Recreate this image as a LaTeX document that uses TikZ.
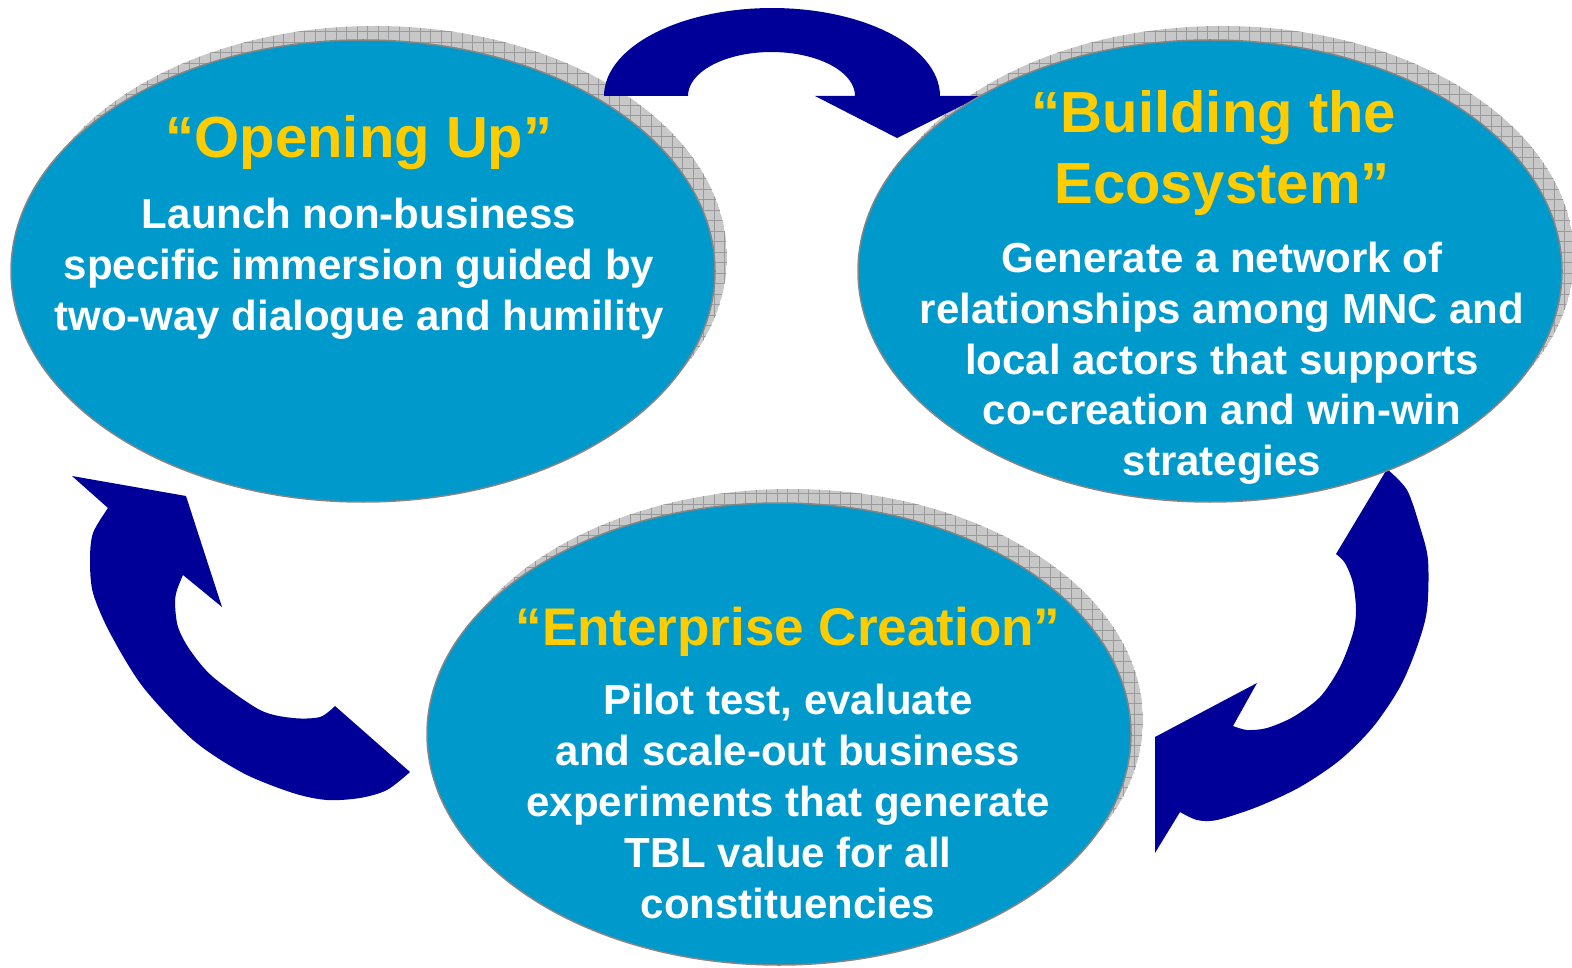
\documentclass[tikz,border=0pt]{standalone}
\usepackage{fontspec}
\setmainfont{Liberation Sans}
\usetikzlibrary{shapes.geometric}
\definecolor{cyanfill}{HTML}{0099CC}
\definecolor{arrowblue}{HTML}{000099}
\definecolor{titleyellow}{HTML}{FFCC00}
\definecolor{shadowfill}{HTML}{C8C8C8}
\definecolor{shadowgrid}{HTML}{9A9A9A}
\definecolor{rimgray}{HTML}{858585}
\tikzset{
  bubble/.style={ellipse, fill=cyanfill, draw=rimgray, line width=1.5pt, inner sep=0pt, outer sep=0pt, minimum width=704pt, minimum height=462pt},
  ttl/.style={text=titleyellow, font=\bfseries\fontsize{58}{70}\selectfont, inner sep=0pt, anchor=base},
  ttlsmall/.style={ttl, font=\bfseries\fontsize{53}{64}\selectfont},
  bodytxt/.style={text=white, font=\bfseries\fontsize{42}{51}\selectfont, inner sep=0pt, anchor=base},
  flow/.style={fill=arrowblue},
  hatchline/.style={draw=shadowgrid, line width=0.7pt},
}
\newcommand\bubbleshadow[2]{%
  \begin{scope}
    \clip (#1+12,#2-14) ellipse[x radius=352pt, y radius=231pt];
    \fill[shadowfill] (#1+12,#2-14) ellipse[x radius=352pt, y radius=231pt];
    \foreach \gx in {0,10.5,...,1584} \draw[hatchline] (\gx,0) -- (\gx,968);
    \foreach \gy in {0,10.5,...,968} \draw[hatchline] (0,\gy) -- (1572,\gy);
  \end{scope}}
\begin{document}
\begin{tikzpicture}[x=1pt,y=-1pt]
\useasboundingbox (0,0) rectangle (1572,968);
% bubble 1
\bubbleshadow{363}{271}
\node[bubble] (e1) at (363,271) {};
% bubble 3
\bubbleshadow{779}{734}
\node[bubble] (e3) at (779,734) {};
% bubble 2 shadow
\bubbleshadow{1210}{271}
% top arrow
\fill[flow] (604,96)
  -- plot[domain=180:0, samples=60] ({772+168*cos(\x)},{96-88*sin(\x)})
  -- (981,96) -- (897,138) -- (815,96)
  -- plot[domain=0:180, samples=60] ({771.5+83.5*cos(\x)},{96-44*sin(\x)})
  -- cycle;
% right arrow
\fill[flow] (1387,469) -- (1336,554)
  -- plot[smooth] coordinates {(1336,554) (1345,563) (1353,583) (1356,610) (1353,633) (1340,667) (1320,697) (1293,717) (1267,728) (1247,730) (1233,726)}
  -- (1257,683) -- (1155,737) -- (1155,853) -- (1180,812)
  -- plot[smooth] coordinates {(1180,812) (1197,820) (1217,820) (1257,807) (1300,787) (1340,760) (1373,727) (1400,687) (1417,647) (1427,610) (1428,560) (1420,527) (1407,490) (1387,469)}
  -- cycle;
% left arrow
\fill[flow] (186,496) -- (222,607) -- (183,575)
  -- plot[smooth] coordinates {(183,575) (177,590) (175,603) (178,627) (190,650) (213,677) (260,710) (293,718) (320,717) (335,706)}
  -- (410,772)
  -- plot[smooth] coordinates {(410,772) (387,790) (360,798) (327,800) (293,793) (243,773) (193,740) (143,687) (110,633) (93,593) (90,560) (93,533) (108,508)}
  -- (72,476) -- cycle;
% bubble 2
\node[bubble] (e2) at (1210,271) {};
% texts bubble 1
\node[ttl] (t1) at (359,158) {“Opening Up”};
\foreach \t [count=\i from 0] in {Launch non-business, specific immersion guided by, two-way dialogue and humility}
  \node[bodytxt] (b1-\i) at (359,{229+51*\i}) {\t};
% texts bubble 2
\node[ttl] (t2a) at (1214,133) {“Building the};
\node[ttl] (t2b) at (1222,204) {Ecosystem”};
\foreach \t [count=\i from 0] in {Generate a network of, relationships among MNC and, local actors that supports, co-creation and win-win, strategies}
  \node[bodytxt] (b2-\i) at (1222,{273+50.5*\i}) {\t};
% texts bubble 3
\node[ttlsmall] (t3) at (788,645) {“Enterprise Creation”};
\foreach \t [count=\i from 0] in {{Pilot test, evaluate}, and scale-out business, experiments that generate, TBL value for all, constituencies}
  \node[bodytxt] (b3-\i) at (788,{714+51*\i}) {\t};
\end{tikzpicture}
\end{document}
